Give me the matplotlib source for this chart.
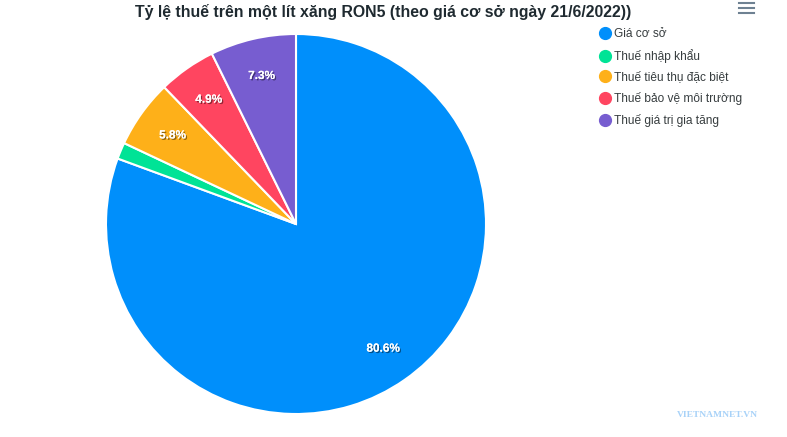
import matplotlib.pyplot as plt
import matplotlib.patheffects as pe
from matplotlib.lines import Line2D

plt.rcParams['font.family'] = ['Liberation Sans', 'DejaVu Sans']

labels = ['Giá cơ sở', 'Thuế nhập khẩu', 'Thuế tiêu thụ đặc biệt',
          'Thuế bảo vệ môi trường', 'Thuế giá trị gia tăng']
values = [80.6, 1.4, 5.8, 4.9, 7.3]
colors = ['#008FFB', '#00E396', '#FEB019', '#FF4560', '#775DD0']
title = 'Tỷ lệ thuế trên một lít xăng RON5 (theo giá cơ sở ngày 21/6/2022))'

W, H = 787, 437
fig = plt.figure(figsize=(W / 100, H / 100), dpi=100)

# pie centre (296, 224) px from top-left, radius 190 px
cx, cy, r = 296, 224, 190
ax = fig.add_axes([(cx - r) / W, (H - cy - r) / H, 2 * r / W, 2 * r / H])

def fmt(p):
    return f'{p:.1f}%' if p >= 3 else ''

wedges, texts, autotexts = ax.pie(
    values, colors=colors, startangle=90, counterclock=False, radius=1,
    autopct=fmt, pctdistance=0.8,
    wedgeprops=dict(edgecolor='white', linewidth=1.5),
    textprops=dict(color='white', fontsize=8.5, fontweight='bold'))
for t in autotexts:
    t.set_path_effects([pe.withSimplePatchShadow(offset=(1, -1), shadow_rgbFace='black', alpha=0.45),
                        pe.Normal()])
ax.set_xlim(-1.0, 1.0)
ax.set_ylim(-1.0, 1.0)
ax.axis('off')

fig.text(383 / W, 1 - 12 / H, title, ha='center', va='center',
         fontsize=11.4, fontweight='bold', color='#1f2a30')

handles = [Line2D([], [], marker='o', linestyle='none', markersize=8.5,
                  markerfacecolor=c, markeredgecolor=c) for c in colors]
fig.legend(handles, labels, loc='upper left', bbox_to_anchor=(592 / W, 1 - 22 / H),
           frameon=False, fontsize=8.6, labelspacing=0.74, handletextpad=0.25,
           handlelength=1.1, borderpad=0, labelcolor='#373d3f')

# menu icon
for yy in (3, 8, 13):
    fig.add_artist(Line2D([739 / W, 754 / W], [1 - yy / H, 1 - yy / H],
                          color='#6E8192', linewidth=1.5))

fig.text(717 / W, 1 - 415 / H, 'VIETNAMNET.VN', ha='center', va='center',
         fontsize=6.8, fontweight='bold', color='#a8d2f8', family='Liberation Serif')

fig.savefig('out.png', dpi=100)
